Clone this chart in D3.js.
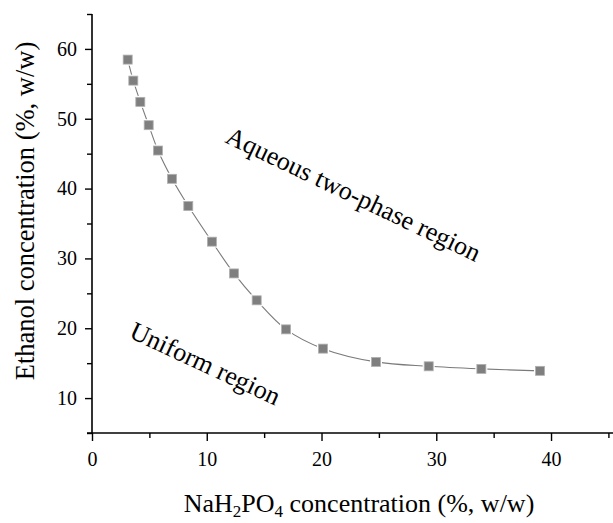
<!DOCTYPE html>
<html>
<head>
<meta charset="utf-8">
<script src="https://cdn.jsdelivr.net/npm/d3@7"></script>
<style>
  html, body { margin: 0; padding: 0; background: #fff; }
  svg { display: block; }
</style>
</head>
<body>
<svg id="chart" width="613" height="523"></svg>
<script>
// ---- data ----
const nah2po4 = [3.11, 3.60, 4.21, 4.94, 5.75, 6.97, 8.39, 10.45, 12.37, 14.35, 16.91, 20.13, 24.75, 29.34, 33.93, 39.04];
const ethanol = [58.47, 55.46, 52.42, 49.08, 45.45, 41.40, 37.50, 32.40, 27.85, 24.00, 19.84, 17.08, 15.18, 14.55, 14.18, 13.90];
const xMajorTicks = [0, 10, 20, 30, 40];
const xMinorTicks = [5, 15, 25, 35, 45];
const yMajorTicks = [10, 20, 30, 40, 50, 60];
const yMinorTicks = [5, 15, 25, 35, 45, 55, 65];
const xDomain = [0, 45.4];
const yDomain = [5, 65];
const regionLabels = ["Aqueous two-phase region", "Uniform region"];

(function () {
const FONT = "'Liberation Serif', 'Times New Roman', Times, serif";
const svg = d3.select("#chart");
const mL = 92, mR = 613, mT = 14, mB = 433;

const x = d3.scaleLinear().domain(xDomain).range([mL, mR]);
const y = d3.scaleLinear().domain(yDomain).range([mB, mT]);

// X axis
const gx = svg.append("g").attr("transform", `translate(0,${mB})`);
gx.call(d3.axisBottom(x).tickValues(xMajorTicks).tickSize(8).tickPadding(11).tickFormat(d3.format("d")));
gx.append("g").call(d3.axisBottom(x).tickValues(xMinorTicks).tickSize(5).tickFormat(""))
  .select(".domain").remove();

// Y axis
const gy = svg.append("g").attr("transform", `translate(${mL},0)`);
gy.call(d3.axisLeft(y).tickValues(yMajorTicks).tickSize(7).tickPadding(8).tickFormat(d3.format("d")));
gy.append("g").call(d3.axisLeft(y).tickValues(yMinorTicks).tickSize(5).tickFormat(""))
  .select(".domain").remove();

svg.selectAll("g").attr("font-family", null);
svg.selectAll(".domain").attr("stroke", "#000").attr("stroke-width", 1.6);
svg.selectAll(".tick line").attr("stroke", "#000").attr("stroke-width", 1.4);
svg.selectAll(".tick text").style("font-family", FONT).style("font-size", "20px").attr("fill", "#000");
gx.selectAll(".domain").attr("d", `M${mL - 5},0H${mR}`);
gy.selectAll(".domain").attr("d", `M0,${mT}V${mB}`);

// data
const pts = nah2po4.map((v, i) => [v, ethanol[i]]);
const line = d3.line().x(d => x(d[0])).y(d => y(d[1])).curve(d3.curveCatmullRom.alpha(0.5));
svg.append("path").datum(pts).attr("d", line)
  .attr("fill", "none").attr("stroke", "#7a7a7a").attr("stroke-width", 1.1);

const ms = 9;
svg.append("g").selectAll("rect").data(pts).join("rect")
  .attr("x", d => x(d[0]) - ms / 2 - 1.5).attr("y", d => y(d[1]) - ms / 2 - 1.5)
  .attr("width", ms + 3).attr("height", ms + 3).attr("fill", "#fff");
svg.append("g").selectAll("rect").data(pts).join("rect")
  .attr("x", d => x(d[0]) - ms / 2).attr("y", d => y(d[1]) - ms / 2)
  .attr("width", ms).attr("height", ms)
  .attr("fill", "#7f7f7f").attr("stroke", "#b0b0b0").attr("stroke-width", 0.8);

// axis titles
svg.append("text")
  .attr("transform", `translate(34,211) rotate(-90)`)
  .attr("text-anchor", "middle")
  .style("font-family", FONT).style("font-size", "26.5px")
  .text("Ethanol concentration (%, w/w)");

const xt = svg.append("text").attr("x", 359).attr("y", 512)
  .attr("text-anchor", "middle")
  .style("font-family", FONT).style("font-size", "26px");
xt.append("tspan").text("NaH");
xt.append("tspan").style("font-size", "17px").attr("dy", 5).text("2");
xt.append("tspan").attr("dy", -5).text("PO");
xt.append("tspan").style("font-size", "17px").attr("dy", 5).text("4");
xt.append("tspan").attr("dy", -5).text(" concentration (%, w/w)");

// region labels
svg.append("text").attr("transform", "translate(224,142) rotate(25.5)")
  .style("font-family", FONT).style("font-size", "26px").text(regionLabels[0]);
svg.append("text").attr("transform", "translate(128,337) rotate(25)")
  .style("font-family", FONT).style("font-size", "26px").text(regionLabels[1]);
})();
</script>
</body>
</html>
